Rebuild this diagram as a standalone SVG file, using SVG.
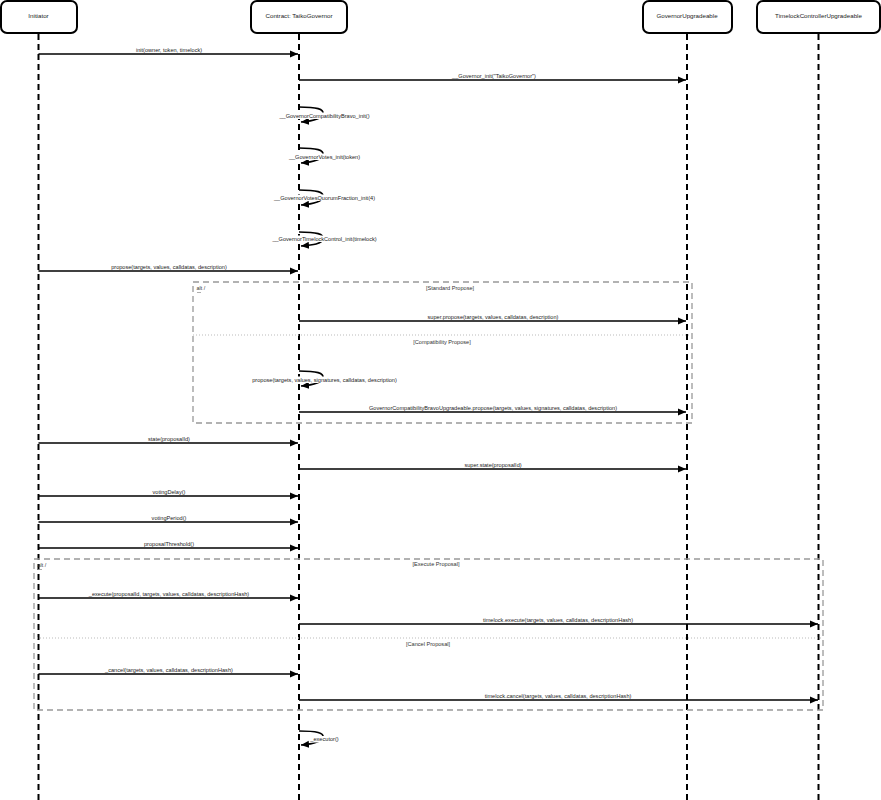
<svg xmlns="http://www.w3.org/2000/svg" width="881" height="800" viewBox="0 0 881 800">
<style>
.box{fill:#fff;stroke:#000;stroke-width:2}
.hd{font-family:"Liberation Sans",Arial,sans-serif;font-size:6.2px;fill:#222;text-anchor:middle}
.life{stroke:#000;stroke-width:2;stroke-dasharray:6 4;fill:none}
.msg{stroke:#000;stroke-width:1.6;fill:none;marker-end:url(#arr)}
.lbl{font-family:"Liberation Sans",Arial,sans-serif;font-size:5.6px;fill:#222;text-anchor:middle}
.bg{fill:#fff}
.frame{fill:none;stroke:#999;stroke-width:1.3;stroke-dasharray:6 4}
.sep{fill:none;stroke:#bbb;stroke-width:1;stroke-dasharray:1 2}
.cond{font-family:"Liberation Sans",Arial,sans-serif;font-size:5.6px;fill:#333;text-anchor:middle}
.alt{font-family:"Liberation Sans",Arial,sans-serif;font-size:5.4px;fill:#333}
</style>
<defs>
<marker id="arr" markerUnits="userSpaceOnUse" markerWidth="9" markerHeight="8" refX="8" refY="4" orient="auto">
<path d="M0,0.5 L8,4 L0,7.5 Z" fill="#000"/>
</marker>
</defs>
<g id="lifelines">
<path class="life" d="M38.5,34 V800"/>
<path class="life" d="M299,34 V800"/>
<path class="life" d="M687,34 V800"/>
<path class="life" d="M818.5,34 V800"/>
</g>
<g id="node-initiator"><rect class="box" x="1" y="1" width="76" height="32" rx="6"/><text class="hd" x="38.5" y="18">Initiator</text></g>
<g id="node-taiko"><rect class="box" x="251" y="1" width="96" height="32" rx="6"/><text class="hd" x="299" y="18">Contract: TaikoGovernor</text></g>
<g id="node-govup"><rect class="box" x="643" y="1" width="89" height="32" rx="6"/><text class="hd" x="687" y="18">GovernorUpgradeable</text></g>
<g id="node-timelock"><rect class="box" x="757" y="1" width="123" height="32" rx="6"/><text class="hd" x="818.5" y="18">TimelockControllerUpgradeable</text></g>
<g id="frames">
<rect class="frame" x="193" y="282" width="499" height="141"/>
<path class="sep" d="M193,335 H692"/>
<text class="alt" x="196.5" y="290">alt /</text>
<path d="M197,292.5 H201" stroke="#999" stroke-width="0.8"/>
<text class="cond" x="450" y="290">[Standard Propose]</text>
<text class="cond" x="442" y="344">[Compatibility Propose]</text>
<rect class="frame" x="34" y="559" width="789" height="151"/>
<path class="sep" d="M34,638 H823"/>
<text class="alt" x="37.5" y="567">alt /</text>
<path d="M38,569.5 H42" stroke="#999" stroke-width="0.8"/>
<text class="cond" x="436" y="566">[Execute Proposal]</text>
<text class="cond" x="428" y="646">[Cancel Proposal]</text>
</g>
<g id="connectors">
<path class="msg" d="M38.5,54 H298"/>
<text class="lbl" x="169" y="52">init(owner, token, timelock)</text>
<path class="msg" d="M299,80 H686"/>
<text class="lbl" x="494" y="78">__Governor_init("TaikoGovernor")</text>

<path class="msg" d="M299,107 C317,107 324,109 323,114 C322,119 313,121 301,122"/>
<rect class="bg" x="280" y="112.5" width="89" height="6.5"/>
<text class="lbl" x="324.5" y="118">__GovernorCompatibilityBravo_init()</text>

<path class="msg" d="M299,148 C317,148 324,150 323,155 C322,160 313,162 301,163"/>
<rect class="bg" x="290" y="153.5" width="70" height="6.5"/>
<text class="lbl" x="324.5" y="159">__GovernorVotes_init(token)</text>

<path class="msg" d="M299,190 C317,190 324,192 323,197 C322,202 313,204 301,205"/>
<rect class="bg" x="274" y="194.5" width="101" height="6.5"/>
<text class="lbl" x="324.5" y="200">__GovernorVotesQuorumFraction_init(4)</text>

<path class="msg" d="M299,232 C317,232 324,234 323,239 C322,244 313,245 301,246"/>
<rect class="bg" x="272" y="235.5" width="105" height="6.5"/>
<text class="lbl" x="324.5" y="241">__GovernorTimelockControl_init(timelock)</text>

<path class="msg" d="M38.5,271 H298"/>
<text class="lbl" x="169" y="269">propose(targets, values, calldatas, description)</text>

<path class="msg" d="M299,321 H686"/>
<text class="lbl" x="493" y="319">super.propose(targets, values, calldatas, description)</text>

<path class="msg" d="M299,371 C317,371 324,373 323,378 C322,383 313,385 301,386"/>
<rect class="bg" x="252" y="376.5" width="145" height="6.5"/>
<text class="lbl" x="324.5" y="382">propose(targets, values, signatures, calldatas, description)</text>

<path class="msg" d="M299,412 H686"/>
<text class="lbl" x="493" y="410">GovernorCompatibilityBravoUpgradeable.propose(targets, values, signatures, calldatas, description)</text>

<path class="msg" d="M38.5,443 H298"/>
<text class="lbl" x="169" y="441">state(proposalId)</text>
<path class="msg" d="M299,469 H686"/>
<text class="lbl" x="493" y="467">super.state(proposalId)</text>
<path class="msg" d="M38.5,496 H298"/>
<text class="lbl" x="169" y="494">votingDelay()</text>
<path class="msg" d="M38.5,522 H298"/>
<text class="lbl" x="169" y="520">votingPeriod()</text>
<path class="msg" d="M38.5,548 H298"/>
<text class="lbl" x="169" y="546">proposalThreshold()</text>

<path class="msg" d="M38.5,598 H298"/>
<text class="lbl" x="169" y="596">_execute(proposalId, targets, values, calldatas, descriptionHash)</text>
<path class="msg" d="M299,624 H818"/>
<text class="lbl" x="558" y="622">timelock.execute(targets, values, calldatas, descriptionHash)</text>
<path class="msg" d="M38.5,674 H298"/>
<text class="lbl" x="169" y="672">_cancel(targets, values, calldatas, descriptionHash)</text>
<path class="msg" d="M299,700 H818"/>
<text class="lbl" x="558" y="698">timelock.cancel(targets, values, calldatas, descriptionHash)</text>

<path class="msg" d="M299,731 C317,731 324,733 323,737 C322,742 313,744 301,745"/>
<rect class="bg" x="309" y="736" width="30" height="6.5"/>
<text class="lbl" x="324.5" y="741">_executor()</text>
</g>
</svg>
